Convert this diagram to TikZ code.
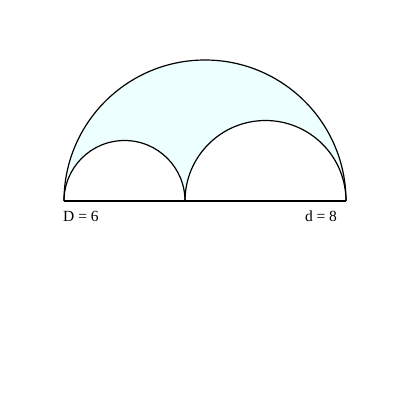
\documentclass[tikz,border=0pt]{standalone}
\usepackage{fontspec}
\setmainfont{Liberation Serif}
\definecolor{arbfill}{HTML}{EEFFFF}
\begin{document}
\begin{tikzpicture}[x=1pt,y=1pt,
  arc/.style={draw=black,line width=1.2pt},
  lbl/.style={inner sep=0pt,font=\fontsize{15.5}{17}\selectfont}]
\useasboundingbox (0,0) rectangle (400,-400);
% filled arbelos
\fill[arbfill] (64,-201) arc[start angle=180,end angle=0,radius=141]
  arc[start angle=0,end angle=180,radius=80.5]
  arc[start angle=0,end angle=180,radius=60.5] -- cycle;
\draw[arc] (64,-201) arc[start angle=180,end angle=0,radius=141];
\draw[arc] (64,-201) arc[start angle=180,end angle=0,radius=60.5];
\draw[arc] (185,-201) arc[start angle=180,end angle=0,radius=80.5];
\draw[arc] (64,-201) -- (346,-201);
\node[lbl,anchor=base west] (D) at (63,-221) {D = 6};
\node[lbl,anchor=base] (d) at (321,-221) {d = 8};
\end{tikzpicture}
\end{document}
